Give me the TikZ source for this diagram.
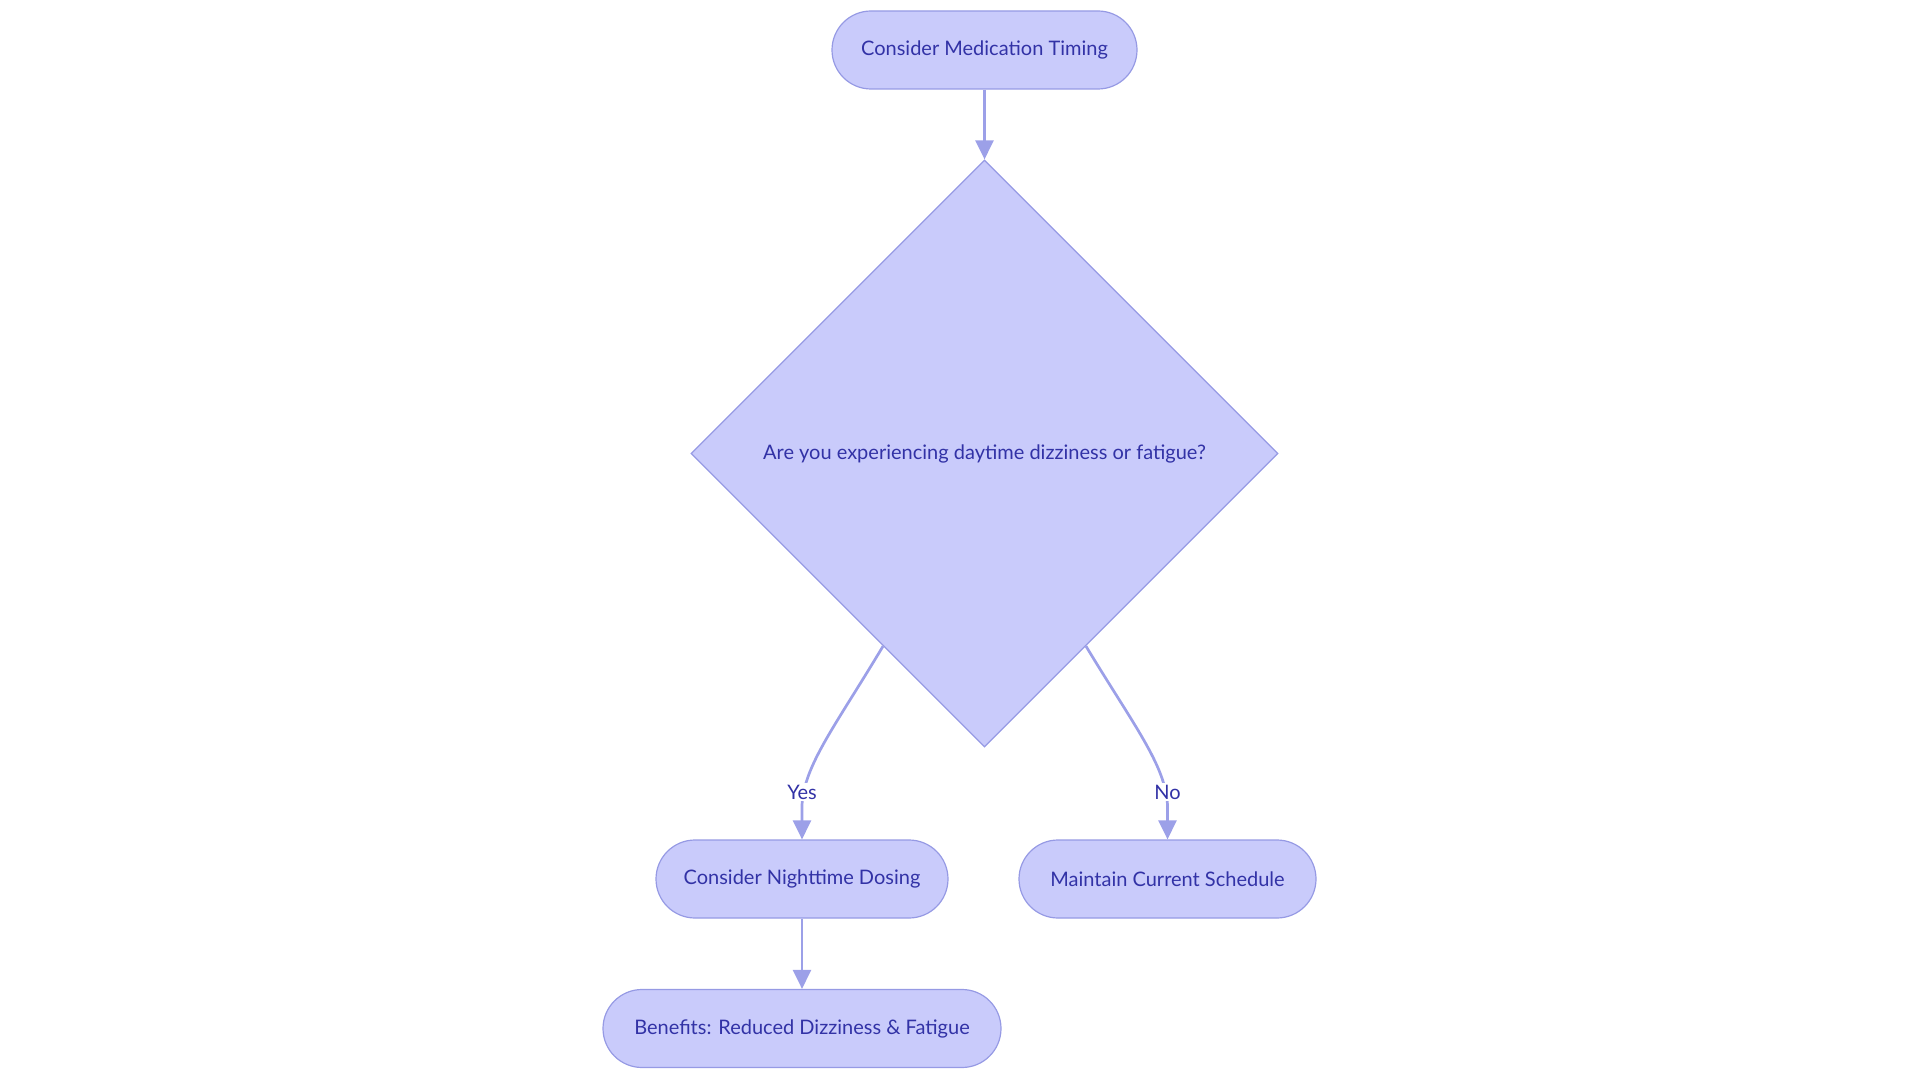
\documentclass[tikz,border=0pt]{standalone}
\usepackage{fontspec}
\setmainfont{Lato}
\usetikzlibrary{shapes.geometric,arrows.meta,calc}
\definecolor{nodefill}{RGB}{201,203,251}
\definecolor{nodeborder}{RGB}{150,154,228}
\definecolor{nodetext}{RGB}{50,50,166}
\definecolor{edgecol}{RGB}{156,160,232}
\begin{document}
\begin{tikzpicture}[x=1pt,y=-1pt,
  every node/.style={font=\fontsize{20}{24}\selectfont, text=nodetext},
  pill/.style={draw=nodeborder, fill=nodefill, line width=1.2pt, rounded corners=39pt,
    minimum height=78pt, inner sep=0pt},
  decision/.style={diamond, draw=nodeborder, fill=nodefill, line width=1.2pt,
    minimum width=587pt, minimum height=587pt, inner sep=0pt},
  link/.style={draw=edgecol, line width=2.7pt, -{Triangle[length=19pt,width=18pt]}},
  edgelabel/.style={fill=white, inner sep=1.5pt}
]
\useasboundingbox (0,0) rectangle (1920,1083);
\node[pill, minimum width=305pt] (start) at (984.5,50) {Consider Medication Timing};
\node[decision] (q) at (984.5,453.5) {Are you experiencing daytime dizziness or fatigue?};
\node[pill, minimum width=292pt] (yes) at (802,879) {Consider Nighttime Dosing};
\node[pill, minimum width=297pt] (no) at (1167.5,879) {Maintain Current Schedule};
\node[pill, minimum width=398pt] (ben) at (802,1028.5) {Benefits: Reduced Dizziness \& Fatigue};
\coordinate (qy) at ($(q.west)!0.655!(q.south)$);
\coordinate (qn) at ($(q.east)!0.655!(q.south)$);
\draw[link] (start.south) -- (q.north);
\draw[link] (qy) .. controls (836,725) and (804,765) .. (802,805) -- (yes.north);
\draw[link] (qn) .. controls (1133.5,725) and (1165.5,765) .. (1167.5,805) -- (no.north);
\draw[link] (yes.south) -- (ben.north);
\node[edgelabel] (ly) at (802,792) {Yes};
\node[edgelabel] (ln) at (1167.5,792) {No};
\end{tikzpicture}
\end{document}
